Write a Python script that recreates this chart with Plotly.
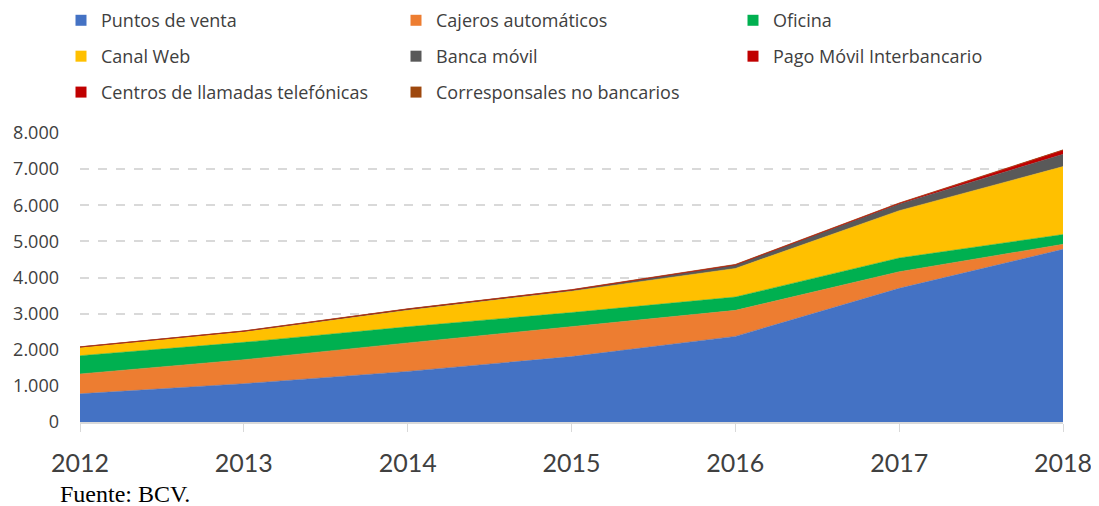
"""Medios de pago - area apilada"""
import plotly.graph_objs as go

years = [2012, 2013, 2014, 2015, 2016, 2017, 2018]

# valores por canal (aprox.)
puntos_venta = [780, 1060, 1400, 1810, 2370, 3700, 4780]
cajeros = [550, 665, 790, 830, 720, 460, 140]
oficina = [505, 480, 445, 390, 370, 380, 270]
canal_web = [225, 290, 460, 590, 790, 1310, 1880]
banca_movil = [15, 20, 30, 35, 95, 185, 340]
pago_movil = [0, 0, 0, 0, 5, 15, 110]
centros_llamadas = [3, 3, 3, 3, 4, 5, 5]
corresponsales = [4, 5, 6, 6, 8, 8, 8]

# leyenda en tres columnas: legend = col 1, legend2 = col 2, legend3 = col 3
series = [
    ('Puntos de venta', puntos_venta, '#4472C4', 'legend'),
    ('Cajeros automáticos', cajeros, '#ED7D31', 'legend2'),
    ('Oficina', oficina, '#00B050', 'legend3'),
    ('Canal Web', canal_web, '#FFC000', 'legend'),
    ('Banca móvil', banca_movil, '#595959', 'legend2'),
    ('Pago Móvil Interbancario', pago_movil, '#C00000', 'legend3'),
    ('Centros de llamadas telefónicas', centros_llamadas, '#C00000', 'legend'),
    ('Corresponsales no bancarios', corresponsales, '#9E480E', 'legend2'),
]

data = []
for name, vals, color, leg in series:
    data.append(go.Scatter(x=years, y=vals, name=name,
                           mode='lines', stackgroup='one',
                           line=dict(width=0.5, color=color),
                           fillcolor=color, showlegend=False,
                           legendgroup=name,
                           hoverinfo='x+y+name'))
    # entrada de leyenda con cuadrado, como en Excel
    data.append(go.Scatter(x=[None], y=[None], name=name, mode='markers',
                           marker=dict(symbol='square', size=11, color=color),
                           legend=leg, legendgroup=name, showlegend=True))

# el div queda desplazado 8px por el margen del body
legend_common = dict(orientation='v', xref='container', yref='paper',
                     xanchor='left', yanchor='top', y=1.453,
                     traceorder='grouped', tracegroupgap=9.5,
                     font=dict(family='Open Sans', size=18, color='#404040'),
                     bgcolor='rgba(0,0,0,0)', itemwidth=30)

layout = go.Layout(
    width=1091, height=498,
    margin=dict(l=72, r=36, t=125, b=84, autoexpand=False),
    paper_bgcolor='white', plot_bgcolor='white',
    separators=',.',
    showlegend=True,
    legend=dict(legend_common, x=53 / 1091),
    legend2=dict(legend_common, x=388 / 1091),
    legend3=dict(legend_common, x=725 / 1091),
    xaxis=dict(range=[2012, 2018], tickvals=years, automargin=False,
               ticks='outside', ticklen=8, tickcolor='#d9d9d9',
               showgrid=False, showline=True, linecolor='#d9d9d9',
               linewidth=1.5, zeroline=False, ticklabelstandoff=10,
               tickfont=dict(family='Lato', size=25, color='#404040')),
    yaxis=dict(range=[0, 8000], dtick=1000, tickformat=',d',
               automargin=False,
               showgrid=True, gridcolor='#d9d9d9', gridwidth=1.5,
               griddash='dash', zeroline=False, showline=False,
               ticks='', ticklabelstandoff=20,
               tickfont=dict(family='Open Sans', size=18, color='#404040')),
    annotations=[dict(text='Fuente: BCV.', xref='paper', yref='paper',
                      x=-0.0224, y=-0.249, xanchor='left',
                      yanchor='middle', showarrow=False,
                      font=dict(family='Liberation Serif', size=24,
                                color='#000000'))],
)

fig = go.Figure(data=data, layout=layout)
fig.write_html('out.html')
